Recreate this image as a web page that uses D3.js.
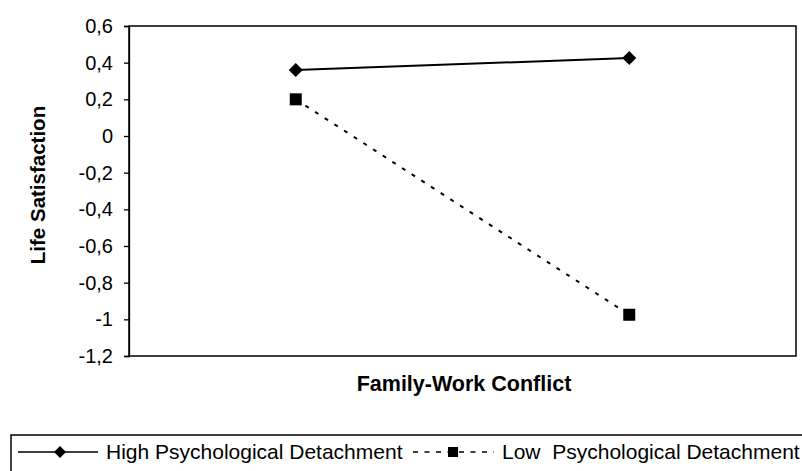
<!DOCTYPE html>
<html>
<head>
<meta charset="utf-8">
<script src="https://cdn.jsdelivr.net/npm/d3@7"></script>
<style>
  body { margin: 0; background: #fff; }
  svg { display: block; font-family: "Liberation Sans", Arial, sans-serif; }
  .legend text { white-space: pre; }
</style>
</head>
<body>
<div id="chart"></div>
<script>
// levels of family-work conflict (not labelled on the axis)
const categories = ["low", "high"];
const seriesNames = ["High Psychological Detachment", "Low  Psychological Detachment"];
const highDetachment = [0.36, 0.425];
const lowDetachment = [0.2, -0.975];
const yTicks = [-1.2, -1, -0.8, -0.6, -0.4, -0.2, 0, 0.2, 0.4, 0.6];

document.addEventListener("DOMContentLoaded", () => {
    const width = 802, height = 471;
    const plot = { left: 129, right: 796, top: 26, bottom: 356 };

    const svg = d3.select("#chart").append("svg")
        .attr("width", width)
        .attr("height", height);

    const x = d3.scalePoint().domain(categories).range([plot.left, plot.right]).padding(0.5);
    const y = d3.scaleLinear().domain([-1.2, 0.6]).range([plot.bottom, plot.top]);

    const fmt = v => v === 0 ? "0" : String(+v.toFixed(1)).replace(".", ",");

    // plot frame
    svg.append("rect")
        .attr("x", plot.left).attr("y", plot.top)
        .attr("width", plot.right - plot.left).attr("height", plot.bottom - plot.top)
        .attr("fill", "none").attr("stroke", "#000").attr("stroke-width", 1.5);

    // y axis
    const yAxis = svg.append("g")
        .attr("transform", `translate(${plot.left},0)`)
        .call(d3.axisLeft(y).tickValues(yTicks).tickFormat(fmt).tickSize(5).tickPadding(11));
    yAxis.selectAll("path, line").attr("stroke", "#000").attr("stroke-width", 1.3);
    yAxis.selectAll("text")
        .attr("fill", "#000")
        .style("font-size", "20px")
        .style("font-family", "'Liberation Sans', Arial, sans-serif");

    // axis titles
    svg.append("text")
        .attr("x", 464).attr("y", 391)
        .attr("text-anchor", "middle")
        .style("font-size", "21.5px").style("font-weight", "bold")
        .text("Family-Work Conflict");

    svg.append("text")
        .attr("transform", "translate(45,185) rotate(-90)")
        .attr("text-anchor", "middle")
        .style("font-size", "20.5px").style("font-weight", "bold")
        .text("Life Satisfaction");

    const line = d3.line()
        .x((d, i) => x(categories[i]))
        .y(d => y(d));

    // high detachment: solid with diamonds
    svg.append("path")
        .datum(highDetachment)
        .attr("d", line)
        .attr("fill", "none").attr("stroke", "#000").attr("stroke-width", 2);

    svg.selectAll(".diamond")
        .data(highDetachment)
        .enter().append("path")
        .attr("class", "diamond")
        .attr("d", "M0,-7 L7,0 L0,7 L-7,0 Z")
        .attr("transform", (d, i) => `translate(${x(categories[i])},${y(d)})`)
        .attr("fill", "#000");

    // low detachment: dotted with squares
    svg.append("path")
        .datum(lowDetachment)
        .attr("d", line)
        .attr("fill", "none").attr("stroke", "#000").attr("stroke-width", 2)
        .attr("stroke-dasharray", "4,7.5");

    svg.selectAll(".square")
        .data(lowDetachment)
        .enter().append("rect")
        .attr("class", "square")
        .attr("x", (d, i) => x(categories[i]) - 6)
        .attr("y", d => y(d) - 6)
        .attr("width", 12).attr("height", 12)
        .attr("fill", "#000");

    // legend
    const legend = svg.append("g").attr("class", "legend");
    legend.append("rect")
        .attr("x", 11).attr("y", 435)
        .attr("width", 820).attr("height", 60)
        .attr("fill", "#fff").attr("stroke", "#000").attr("stroke-width", 1.5);

    const ly = 452;
    legend.append("line")
        .attr("x1", 18).attr("x2", 98).attr("y1", ly).attr("y2", ly)
        .attr("stroke", "#000").attr("stroke-width", 1.5);
    legend.append("path")
        .attr("d", "M0,-6 L6,0 L0,6 L-6,0 Z")
        .attr("transform", `translate(60,${ly})`)
        .attr("fill", "#000");
    legend.append("text")
        .attr("x", 106).attr("y", ly + 7)
        .style("font-size", "21px")
        .text(seriesNames[0]);

    legend.append("line")
        .attr("x1", 413).attr("x2", 494).attr("y1", ly).attr("y2", ly)
        .attr("stroke", "#000").attr("stroke-width", 1.5)
        .attr("stroke-dasharray", "5,6.5");
    legend.append("rect")
        .attr("x", 448).attr("y", ly - 5)
        .attr("width", 10).attr("height", 10)
        .attr("fill", "#000");
    legend.append("text")
        .attr("x", 502).attr("y", ly + 7)
        .style("font-size", "21px")
        .text(seriesNames[1]);
});
</script>
</body>
</html>
